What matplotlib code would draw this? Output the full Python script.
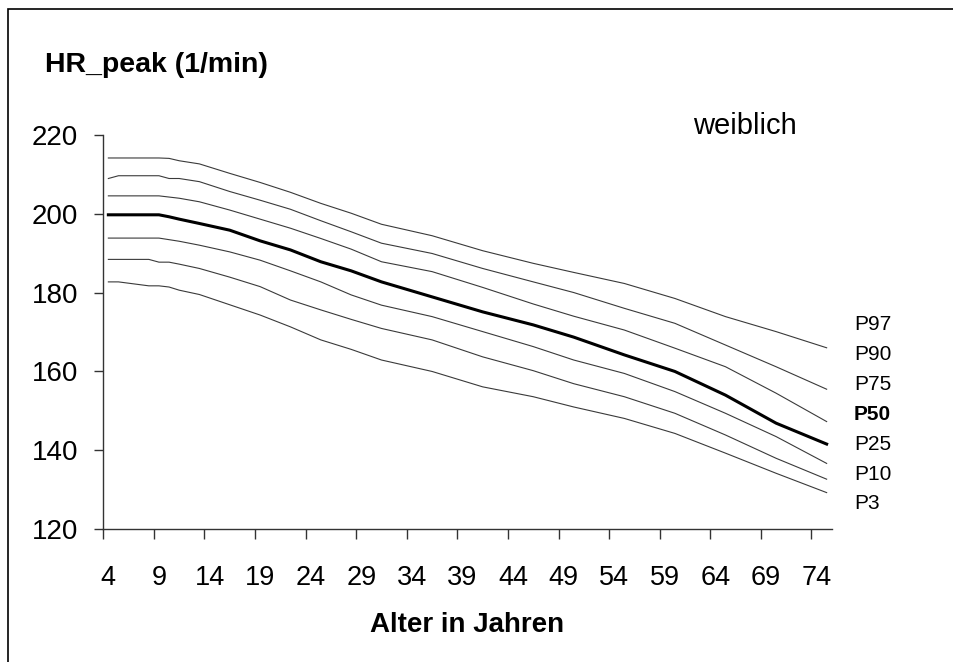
import matplotlib
matplotlib.use("Agg")
import matplotlib.pyplot as plt
from matplotlib.patches import Rectangle

plt.rcParams["font.family"] = ["Liberation Sans", "DejaVu Sans"]

# Percentile curves (age in years -> HR_peak 1/min)
ages = [4, 5, 8, 9, 10, 11, 13, 16, 19, 22, 25, 28, 31, 36, 41, 46, 50, 55, 60, 65, 70, 75]
p97 = [214.1, 214.1, 214.1, 214.1, 214.0, 213.4, 212.6, 210.2, 207.9, 205.4, 202.6, 200.1,
       197.3, 194.4, 190.6, 187.4, 185.1, 182.3, 178.5, 173.9, 170.1, 166.0]
p90 = [208.9, 209.6, 209.6, 209.6, 208.9, 208.9, 208.1, 205.6, 203.4, 201.1, 198.2, 195.4,
       192.5, 189.9, 186.1, 182.7, 180.0, 176.0, 172.2, 166.7, 161.2, 155.5]
p75 = [204.5, 204.5, 204.5, 204.5, 204.2, 203.9, 203.0, 200.9, 198.6, 196.3, 193.7, 191.0,
       187.8, 185.3, 181.3, 177.1, 174.0, 170.5, 165.9, 161.2, 154.5, 147.3]
p50 = [199.7, 199.7, 199.7, 199.7, 199.2, 198.6, 197.5, 195.8, 193.1, 190.8, 187.8, 185.5,
       182.7, 178.9, 175.1, 171.8, 168.7, 164.2, 160.0, 154.0, 146.9, 141.6]
p25 = [193.8, 193.8, 193.8, 193.8, 193.4, 193.0, 192.0, 190.3, 188.2, 185.5, 182.7, 179.4,
       176.8, 173.9, 170.1, 166.3, 162.9, 159.5, 154.9, 149.4, 143.5, 136.7]
p10 = [188.4, 188.4, 188.4, 187.7, 187.7, 187.2, 186.1, 183.9, 181.5, 178.1, 175.6, 173.2,
       170.9, 168.0, 163.7, 160.2, 156.9, 153.6, 149.4, 143.9, 138.0, 132.7]
p3 = [182.7, 182.7, 181.7, 181.7, 181.4, 180.6, 179.5, 176.9, 174.3, 171.3, 168.0, 165.6,
      162.9, 160.0, 156.1, 153.6, 151.0, 148.1, 144.3, 139.3, 134.2, 129.3]

curve_names = ["P97", "P90", "P75", "P50", "P25", "P10", "P3"]
curves = [p97, p90, p75, p50, p25, p10, p3]

x_labels = list(range(4, 75, 5))
y_ticks = [120, 140, 160, 180, 200, 220]

W, H = 954, 662
fig = plt.figure(figsize=(W / 100, H / 100), dpi=100)
ax = fig.add_axes([103.3 / W, 1 - 529.3 / H, (831.7 - 103.3) / W, (529.3 - 134.7) / H])

for name, vals in zip(curve_names, curves):
    if name == "P50":
        ax.plot(ages, vals, color="black", lw=2.2, solid_joinstyle="round")
    else:
        ax.plot(ages, vals, color="#3a3a3a", lw=0.8)

ax.set_xlim(3.5, 75.5)
ax.set_ylim(120, 220)

for s in ["top", "right"]:
    ax.spines[s].set_visible(False)
for s in ["left", "bottom"]:
    ax.spines[s].set_color("#333333")
    ax.spines[s].set_linewidth(1.0)

# labels centred in the category, tick marks on the category boundaries
ax.set_xticks(x_labels)
ax.set_xticklabels([str(a) for a in x_labels])
ax.set_xticks([a - 0.5 for a in x_labels], minor=True)
ax.tick_params(axis="x", which="major", length=0, pad=26, labelsize=19.5)
ax.tick_params(axis="x", which="minor", length=7.2, width=1.0, color="#333333", direction="out")

ax.set_yticks(y_ticks)
ax.tick_params(axis="y", length=6.5, width=1.0, color="#333333", pad=11.5, labelsize=20)

fig.text(45 / W, 1 - 71.7 / H, "HR_peak (1/min)", fontsize=20.5, fontweight="bold", va="baseline")
fig.text(693 / W, 1 - 134.3 / H, "weiblich", fontsize=21, va="baseline")
fig.text(467.5 / W, 1 - 632.3 / H, "Alter in Jahren", fontsize=20, fontweight="bold",
         ha="center", va="baseline")

label_y = [325, 355, 385, 415, 444.3, 474.3, 503.3]
for name, yy in zip(curve_names, label_y):
    fig.text(854 / W, 1 - yy / H, name, fontsize=15, va="center",
             fontweight="bold" if name == "P50" else "normal")

# outer frame (runs off the right and bottom edges)
fig.patches.append(Rectangle((8.3 / W, -0.05), 1.2, 1 - 9.3 / H + 0.05,
                             transform=fig.transFigure, fill=False,
                             edgecolor="black", lw=1.2))

fig.savefig("out.png", dpi=100)
